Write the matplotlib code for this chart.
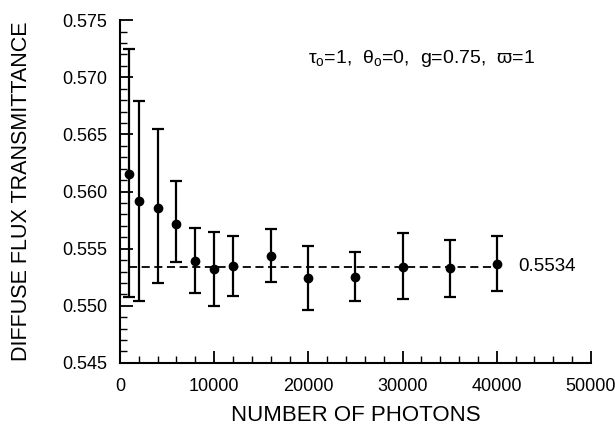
import numpy as np
import matplotlib.pyplot as plt
from matplotlib.ticker import MultipleLocator

plt.rcParams['font.family'] = ['Liberation Sans', 'DejaVu Sans']
plt.rcParams['mathtext.fontset'] = 'custom'
plt.rcParams['mathtext.rm'] = 'Liberation Sans'
plt.rcParams['mathtext.it'] = 'Liberation Sans'

# photons, mean value and error bar limits
photons = [1000, 2000, 4000, 6000, 8000, 10000, 12000, 16000, 20000, 25000, 30000, 35000, 40000]
trans = [0.5615, 0.5592, 0.5586, 0.5572, 0.5539, 0.5532, 0.5535, 0.5544, 0.5524, 0.5525, 0.5534, 0.5533, 0.5537]
upper = [0.5725, 0.5679, 0.5655, 0.5609, 0.5568, 0.5565, 0.5561, 0.5567, 0.5552, 0.5547, 0.5564, 0.5558, 0.5561]
lower = [0.5508, 0.5504, 0.5520, 0.5538, 0.5511, 0.5500, 0.5509, 0.5521, 0.5496, 0.5504, 0.5506, 0.5508, 0.5513]
exact = 0.5534

x = np.array(photons)
y = np.array(trans)
yerr = [y - np.array(lower), np.array(upper) - y]

fig = plt.figure(figsize=(6.15, 4.3), dpi=100)
ax = fig.add_axes([0.195, 0.156, 0.766, 0.797])

ax.plot([photons[0], photons[-1]], [exact, exact], 'k--', lw=1.3, dashes=(4.5, 2.5))
ax.errorbar(x, y, yerr=yerr, fmt='o', color='k', ms=6, lw=1.6,
            capsize=4.5, capthick=1.6)

ax.set_xlim(0, 50000)
ax.set_ylim(0.545, 0.575)
ax.xaxis.set_major_locator(MultipleLocator(10000))
ax.xaxis.set_minor_locator(MultipleLocator(2000))
ax.yaxis.set_major_locator(MultipleLocator(0.005))
ax.yaxis.set_minor_locator(MultipleLocator(0.001))
ax.yaxis.set_major_formatter(plt.FormatStrFormatter('%.3f'))

for s in ['top', 'right']:
    ax.spines[s].set_visible(False)
ax.spines['left'].set_linewidth(1.5)
ax.spines['bottom'].set_linewidth(1.5)
ax.tick_params(which='major', direction='in', length=9, width=1.3, labelsize=13)
ax.tick_params(axis='y', which='major', pad=9)
ax.tick_params(axis='x', which='major', pad=11)
ax.tick_params(which='minor', direction='in', length=5, width=1.0)

ax.set_xlabel('NUMBER OF PHOTONS', fontsize=16, labelpad=7)
ax.set_ylabel('DIFFUSE FLUX TRANSMITTANCE', fontsize=15.5, labelpad=22)

ax.text(42300, exact, '0.5534', fontsize=13.5, va='center', ha='left')
ax.text(0.881, 0.889, r'τ$_{\rm o}$=1,  θ$_{\rm o}$=0,  g=0.75,  ϖ=1',
        transform=ax.transAxes, fontsize=14, ha='right', va='center')

fig.savefig('out.png', dpi=100)
